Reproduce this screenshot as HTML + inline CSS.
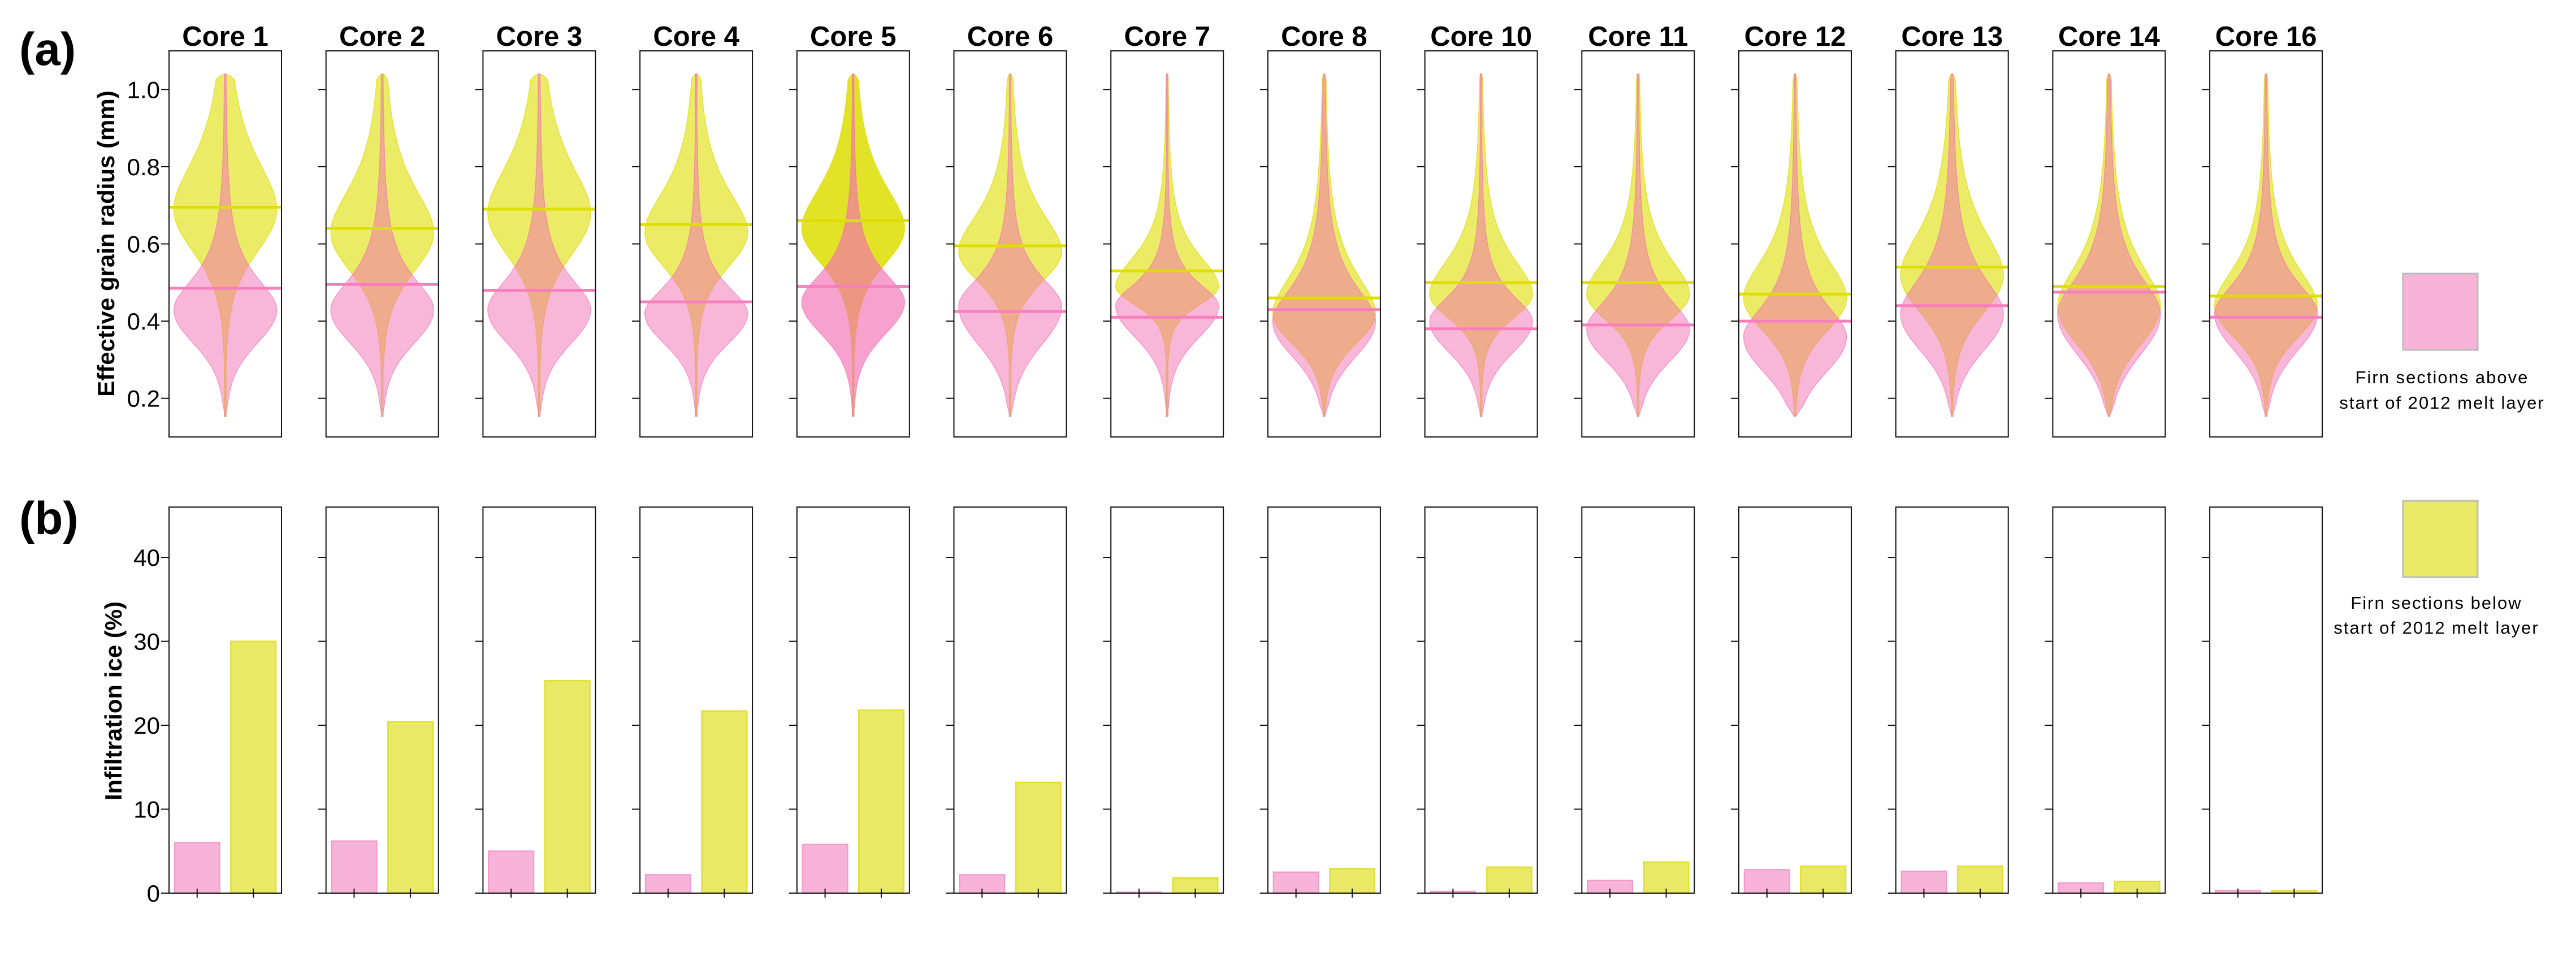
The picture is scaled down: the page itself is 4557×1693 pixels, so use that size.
<!DOCTYPE html>
<html><head><meta charset="utf-8"><style>
html,body{margin:0;padding:0;background:#fff;}
svg{display:block;font-family:"Liberation Sans",Arial,sans-serif;}
</style></head><body>
<svg id="fig" width="4557" height="1693" viewBox="0 0 4557 1693" xmlns="http://www.w3.org/2000/svg">
<text x="34" y="115" font-size="82" font-weight="bold">(a)</text>
<text x="34" y="945" font-size="82" font-weight="bold">(b)</text>
<text transform="translate(202,431) rotate(-90)" text-anchor="middle" font-size="42" font-weight="bold">Effective grain radius (mm)</text>
<text transform="translate(215,1240) rotate(-90)" text-anchor="middle" font-size="42" font-weight="bold">Infiltration ice (%)</text>
<g>
<rect x="4251" y="484" width="132" height="135" fill="#f7b4d8" stroke="#bbbbbb" stroke-width="3"/>
<text x="4320" y="678" text-anchor="middle" font-size="31" letter-spacing="2">Firn sections above</text>
<text x="4320" y="723" text-anchor="middle" font-size="31" letter-spacing="2">start of 2012 melt layer</text>
<rect x="4251" y="886" width="132" height="135" fill="#e9e966" stroke="#bbbbbb" stroke-width="3"/>
<text x="4310" y="1077" text-anchor="middle" font-size="31" letter-spacing="2">Firn sections below</text>
<text x="4310" y="1121" text-anchor="middle" font-size="31" letter-spacing="2">start of 2012 melt layer</text>
</g>
</svg>
<script>
const cores = ["Core 1","Core 2","Core 3","Core 4","Core 5","Core 6","Core 7","Core 8","Core 10","Core 11","Core 12","Core 13","Core 14","Core 16"];
const yellowMedian = [0.695,0.64,0.69,0.65,0.66,0.595,0.53,0.46,0.50,0.50,0.47,0.54,0.49,0.465];
const pinkMedian = [0.485,0.495,0.48,0.45,0.49,0.425,0.41,0.43,0.38,0.39,0.40,0.44,0.475,0.41];
const yellowMode = [0.69,0.63,0.68,0.63,0.64,0.58,0.49,0.42,0.47,0.47,0.46,0.52,0.44,0.44];
const yellowSpreadLo = [0.17,0.17,0.17,0.15,0.15,0.14,0.10,0.20,0.14,0.15,0.20,0.20,0.25,0.20];
const yellowSpreadHi = [0.17,0.17,0.17,0.16,0.16,0.16,0.15,0.22,0.18,0.18,0.20,0.20,0.22,0.20];
const pinkMode = [0.43,0.43,0.43,0.42,0.45,0.44,0.44,0.40,0.40,0.38,0.36,0.42,0.42,0.42];
const pinkSpreadLo = [0.22,0.22,0.22,0.20,0.20,0.25,0.20,0.25,0.22,0.24,0.28,0.25,0.28,0.25];
const pinkSpreadHi = [0.17,0.17,0.17,0.15,0.15,0.15,0.12,0.20,0.15,0.18,0.20,0.20,0.20,0.17];
const iceAbove = [6.0,6.2,5.0,2.2,5.8,2.2,0.1,2.5,0.2,1.5,2.8,2.6,1.2,0.3];
const iceBelow = [30.0,20.4,25.3,21.7,21.8,13.2,1.8,2.9,3.1,3.7,3.2,3.2,1.4,0.3];
const radiusTicks = [0.2,0.4,0.6,0.8,1.0];
const radiusTickLabels = ["0.2","0.4","0.6","0.8","1.0"];
const iceTicks = [0,10,20,30,40];
const iceTickLabels = ["0","10","20","30","40"];

const NS="http://www.w3.org/2000/svg";
const svg=document.getElementById('fig');
function mk(tag,attrs,parent){const e=document.createElementNS(NS,tag);for(const k in attrs)e.setAttribute(k,attrs[k]);(parent||svg).appendChild(e);return e;}
const X0=299,PITCH=277.7,W=199;
const A_TOP=90,A_BOT=773,A_MIN=0.1,A_MAX=1.1;
const B_TOP=897,B_BOT=1580,B_MIN=0,B_MAX=46;
function ya(v){return A_BOT-(v-A_MIN)/(A_MAX-A_MIN)*(A_BOT-A_TOP);}
function yb(v){return B_BOT-(v-B_MIN)/(B_MAX-B_MIN)*(B_BOT-B_TOP);}
function xb(pos,left){return left+(pos-0.5)/2*W;}
function violinPath(cx,mode,sLo,sHi,half){
  const pts=[];const lo=0.153,hi=1.04;const nu=2;
  for(let i=0;i<=240;i++){const v=lo+(hi-lo)*i/240;const l=Math.log(v/mode);const s=l<0?sLo:sHi;
    let w=half*Math.pow(1+l*l/(2*nu*s*s),-nu);
    const edge=Math.min(1,(v-lo)/0.03,(hi-v)/0.015);
    w=Math.max(w*Math.sqrt(Math.max(edge,0)),1.5);pts.push([v,w]);}
  let d="M"+cx+","+ya(lo);
  pts.forEach(p=>{d+=" L"+(cx+p[1]).toFixed(1)+","+ya(p[0]).toFixed(1);});
  for(let i=pts.length-1;i>=0;i--){d+=" L"+(cx-pts[i][1]).toFixed(1)+","+ya(pts[i][0]).toFixed(1);}
  return d+"Z";
}
cores.forEach((c,i)=>{
  const left=X0+i*PITCH,cx=left+W/2;
  const strong=(c==="Core 5");
  const t=mk('text',{x:cx,y:81,'text-anchor':'middle','font-size':49,'font-weight':'bold'});t.textContent=c;
  
  
  const ga=mk('g',{});
  
  
  const vy=mk('path',{d:violinPath(cx,yellowMode[i],yellowSpreadLo[i],yellowSpreadHi[i],91),fill:'rgb(221,221,0)','fill-opacity':strong?0.85:0.6,stroke:'rgb(221,221,0)','stroke-opacity':0.7,'stroke-width':1.5},ga);
  
  
  const vp=mk('path',{d:violinPath(cx,pinkMode[i],pinkSpreadLo[i],pinkSpreadHi[i],91),fill:'rgb(242,110,180)','fill-opacity':strong?0.65:0.5,stroke:'rgb(242,110,180)','stroke-opacity':0.6,'stroke-width':1.5},ga);
  
  
  const my=mk('line',{x1:left,x2:left+W,y1:ya(yellowMedian[i]),y2:ya(yellowMedian[i]),stroke:'#dede00','stroke-width':5},ga);
  
  
  const mp=mk('line',{x1:left,x2:left+W,y1:ya(pinkMedian[i]),y2:ya(pinkMedian[i]),stroke:'#f77fbe','stroke-width':5},ga);
  
  
  const fa=mk('rect',{x:left,y:A_TOP,width:W,height:A_BOT-A_TOP,fill:'none',stroke:'#111','stroke-width':2},ga);
  
  
  radiusTicks.forEach((v,k)=>{
    mk('line',{x1:left-14,x2:left,y1:ya(v),y2:ya(v),stroke:'#111','stroke-width':2},ga);
    if(i===0){const tl=mk('text',{x:left-16,y:ya(v)+15,'text-anchor':'end','font-size':42},ga);tl.textContent=radiusTickLabels[k];
      
      }
  });
  const gb=mk('g',{});
  
  
  const bw=0.8/2*W;
  const b1=mk('rect',{x:xb(1,left)-bw/2,y:yb(iceAbove[i]),width:bw,height:Math.max(yb(0)-yb(iceAbove[i]),1),fill:'#f7b3d8',stroke:'#f29ccb','stroke-width':2.5},gb);
  
  
  const b2=mk('rect',{x:xb(2,left)-bw/2,y:yb(iceBelow[i]),width:bw,height:Math.max(yb(0)-yb(iceBelow[i]),1),fill:'#e9e966',stroke:'#e0e030','stroke-width':2.5},gb);
  
  
  const fb=mk('rect',{x:left,y:B_TOP,width:W,height:B_BOT-B_TOP,fill:'none',stroke:'#111','stroke-width':2},gb);
  
  
  [1,2].forEach(p=>mk('line',{x1:xb(p,left),x2:xb(p,left),y1:B_BOT-8,y2:B_BOT+8,stroke:'#111','stroke-width':2},gb));
  iceTicks.forEach((v,k)=>{
    mk('line',{x1:left-14,x2:left,y1:yb(v),y2:yb(v),stroke:'#111','stroke-width':2},gb);
    if(i===0){const tl=mk('text',{x:left-16,y:yb(v)+15,'text-anchor':'end','font-size':42},gb);tl.textContent=iceTickLabels[k];
      
      }
  });
});
</script>
</body></html>
